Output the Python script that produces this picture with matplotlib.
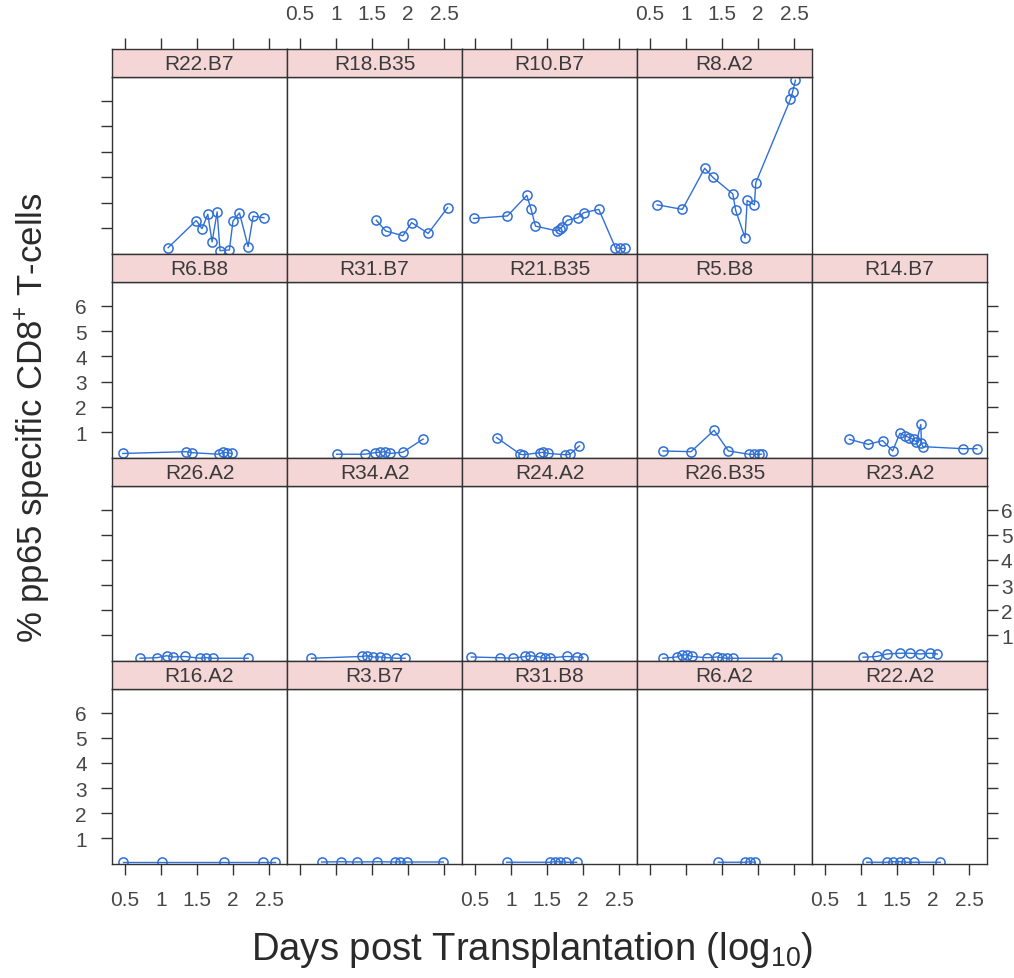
import matplotlib
matplotlib.use("Agg")
import matplotlib.pyplot as plt

plt.rcParams['font.family'] = ['Liberation Sans', 'DejaVu Sans']
plt.rcParams['mathtext.fontset'] = 'custom'
plt.rcParams['mathtext.rm'] = 'Liberation Sans'
plt.rcParams['mathtext.it'] = 'Liberation Sans:italic'
plt.rcParams['mathtext.bf'] = 'Liberation Sans:bold'

# ---------------- data (log10 days, % specific cells) ----------------
r22_b7_x = [1.10, 1.49, 1.57, 1.65, 1.71, 1.78, 1.82, 1.95, 2.00, 2.09, 2.21, 2.28, 2.43]
r22_b7_y = [0.22, 1.29, 0.97, 1.54, 0.45, 1.63, 0.10, 0.13, 1.27, 1.59, 0.26, 1.46, 1.40]

r18_b35_x = [1.56, 1.69, 1.93, 2.05, 2.28, 2.55]
r18_b35_y = [1.30, 0.88, 0.69, 1.21, 0.78, 1.80]

r10_b7_x = [0.48, 0.95, 1.22, 1.28, 1.34, 1.64, 1.68, 1.71, 1.78, 1.93, 2.01, 2.22, 2.45, 2.52, 2.58]
r10_b7_y = [1.37, 1.47, 2.28, 1.73, 1.07, 0.88, 0.97, 1.04, 1.30, 1.40, 1.60, 1.73, 0.22, 0.19, 0.19]

r8_a2_x = [0.60, 0.95, 1.26, 1.37, 1.65, 1.69, 1.82, 1.85, 1.95, 1.97, 2.45, 2.48, 2.52]
r8_a2_y = [1.91, 1.73, 3.35, 3.00, 2.34, 1.69, 0.61, 2.08, 1.91, 2.78, 6.07, 6.35, 6.82]

r6_b8_x = [0.47, 1.35, 1.43, 1.81, 1.86, 1.92, 1.98]
r6_b8_y = [0.15, 0.22, 0.18, 0.12, 0.20, 0.18, 0.15]

r31_b7_x = [1.01, 1.40, 1.54, 1.61, 1.68, 1.75, 1.93, 2.21]
r31_b7_y = [0.12, 0.12, 0.18, 0.20, 0.22, 0.15, 0.20, 0.72]

r21_b35_x = [0.80, 1.13, 1.17, 1.40, 1.45, 1.52, 1.75, 1.82, 1.95]
r21_b35_y = [0.78, 0.12, 0.10, 0.18, 0.20, 0.15, 0.10, 0.12, 0.45]

r5_b8_x = [0.68, 1.07, 1.39, 1.59, 1.87, 1.94, 2.01, 2.05]
r5_b8_y = [0.25, 0.22, 1.07, 0.25, 0.12, 0.12, 0.12, 0.12]

r14_b7_x = [0.84, 1.10, 1.30, 1.44, 1.54, 1.61, 1.67, 1.73, 1.77, 1.83, 1.84, 1.86, 2.41, 2.61]
r14_b7_y = [0.71, 0.51, 0.66, 0.25, 0.95, 0.85, 0.78, 0.71, 0.60, 1.30, 0.55, 0.42, 0.34, 0.34]

r26_a2_x = [0.71, 0.94, 1.08, 1.17, 1.33, 1.54, 1.63, 1.72, 2.21]
r26_a2_y = [0.08, 0.10, 0.18, 0.13, 0.15, 0.08, 0.10, 0.08, 0.08]

r34_a2_x = [0.66, 1.36, 1.43, 1.52, 1.61, 1.70, 1.84, 1.96]
r34_a2_y = [0.08, 0.15, 0.18, 0.13, 0.13, 0.10, 0.08, 0.08]

r24_a2_x = [0.45, 0.85, 1.03, 1.20, 1.27, 1.40, 1.47, 1.54, 1.78, 1.92, 2.00]
r24_a2_y = [0.13, 0.10, 0.08, 0.15, 0.18, 0.13, 0.08, 0.10, 0.15, 0.13, 0.10]

r26_b35_x = [0.68, 0.87, 0.94, 1.01, 1.08, 1.29, 1.43, 1.50, 1.57, 1.65, 2.26]
r26_b35_y = [0.08, 0.13, 0.20, 0.22, 0.15, 0.10, 0.13, 0.10, 0.08, 0.08, 0.08]

r23_a2_x = [1.03, 1.22, 1.36, 1.54, 1.68, 1.82, 1.96, 2.06]
r23_a2_y = [0.12, 0.15, 0.25, 0.28, 0.28, 0.25, 0.28, 0.25]

r16_a2_x = [0.47, 1.02, 1.88, 2.42, 2.58]
r16_a2_y = [0.04, 0.04, 0.04, 0.04, 0.04]

r3_b7_x = [0.80, 1.07, 1.29, 1.57, 1.82, 1.89, 1.98, 2.49]
r3_b7_y = [0.05, 0.06, 0.05, 0.06, 0.05, 0.06, 0.05, 0.05]

r31_b8_x = [0.94, 1.54, 1.61, 1.68, 1.77, 1.91]
r31_b8_y = [0.04, 0.04, 0.06, 0.06, 0.04, 0.04]

r6_a2_x = [1.45, 1.82, 1.89, 1.96]
r6_a2_y = [0.04, 0.04, 0.06, 0.04]

r22_a2_x = [1.08, 1.36, 1.45, 1.54, 1.63, 1.73, 2.10]
r22_a2_y = [0.04, 0.04, 0.06, 0.06, 0.04, 0.04, 0.04]

panel_rows = [
    [("R22.B7", r22_b7_x, r22_b7_y), ("R18.B35", r18_b35_x, r18_b35_y),
     ("R10.B7", r10_b7_x, r10_b7_y), ("R8.A2", r8_a2_x, r8_a2_y), None],
    [("R6.B8", r6_b8_x, r6_b8_y), ("R31.B7", r31_b7_x, r31_b7_y),
     ("R21.B35", r21_b35_x, r21_b35_y), ("R5.B8", r5_b8_x, r5_b8_y),
     ("R14.B7", r14_b7_x, r14_b7_y)],
    [("R26.A2", r26_a2_x, r26_a2_y), ("R34.A2", r34_a2_x, r34_a2_y),
     ("R24.A2", r24_a2_x, r24_a2_y), ("R26.B35", r26_b35_x, r26_b35_y),
     ("R23.A2", r23_a2_x, r23_a2_y)],
    [("R16.A2", r16_a2_x, r16_a2_y), ("R3.B7", r3_b7_x, r3_b7_y),
     ("R31.B8", r31_b8_x, r31_b8_y), ("R6.A2", r6_a2_x, r6_a2_y),
     ("R22.A2", r22_a2_x, r22_a2_y)],
]

x_ticks = [0.5, 1, 1.5, 2, 2.5]
x_ticklabels = ["0.5", "1", "1.5", "2", "2.5"]
y_ticks = [1, 2, 3, 4, 5, 6]
y_ticklabels = ["1", "2", "3", "4", "5", "6"]
x_label = r"Days post Transplantation (log$_{10}$)"
y_label = r"% pp65 specific CD8$^{+}$ T-cells"

# ---------------- layout (pixels) ----------------
W, H = 1014, 979
col_edges = [112, 287, 462, 637, 812, 987]
strip_tops = [50, 255, 459, 662]
panel_bottoms = [255, 459, 662, 865]
strip_h = 28
xlim = (0.32, 2.75)
ylim = (-0.03, 6.95)

line_col = "#2f6fd6"
edge_col = "#333333"
text_col = "#474747"
strip_col = "#f5d6d6"
fs_tick = 15
fs_strip = 15

fig = plt.figure(figsize=(W / 100, H / 100), dpi=100)
fig.patch.set_facecolor("white")


def frac(x0, y_top, x1, y_bot):
    return [x0 / W, 1 - y_bot / H, (x1 - x0) / W, (y_bot - y_top) / H]


nrows = len(panel_rows)
for r, row in enumerate(panel_rows):
    for c, item in enumerate(row):
        if item is None:
            continue
        name, xs, ys = item
        x0, x1 = col_edges[c], col_edges[c + 1]
        st = strip_tops[r]
        pb = panel_bottoms[r]
        ax = fig.add_axes(frac(x0, st + strip_h, x1, pb))
        ax.plot(xs, ys, color=line_col, lw=1.0, marker="o", ms=6.6,
                mfc="none", mec=line_col, mew=1.1)
        ax.set_xlim(*xlim)
        ax.set_ylim(*ylim)
        for sp in ax.spines.values():
            sp.set_color(edge_col)
            sp.set_linewidth(1.0)
        ax.set_xticks(x_ticks)
        ax.set_yticks(y_ticks)
        ax.tick_params(axis="both", direction="out", length=8, width=1,
                       color=edge_col, labelcolor=text_col, labelsize=fs_tick)
        left_ticks = (c == 0)
        left_labels = (c == 0 and r % 2 == 1)
        right_ticks = (c == len(row) - 1 and row[-1] is not None)
        right_labels = right_ticks and (r % 2 == 0)
        ax.tick_params(axis="y", left=left_ticks, labelleft=left_labels,
                       right=right_ticks, labelright=right_labels)
        ax.tick_params(axis="y", pad=10)
        if right_labels:
            ax.tick_params(axis="y", pad=2)
        ax.set_yticklabels(y_ticklabels)
        bottom = (r == nrows - 1)
        ax.tick_params(axis="x", bottom=bottom, labelbottom=bottom and c % 2 == 0,
                       top=False, labeltop=False, pad=11)
        ax.set_xticklabels(x_ticklabels)

        sax = fig.add_axes(frac(x0, st, x1, st + strip_h))
        sax.set_facecolor(strip_col)
        sax.set_xlim(*xlim)
        sax.set_ylim(0, 1)
        sax.set_yticks([])
        for sp in sax.spines.values():
            sp.set_color(edge_col)
            sp.set_linewidth(1.0)
        sax.text(0.5, 0.48, name, transform=sax.transAxes, ha="center",
                 va="center", fontsize=fs_strip, color="#3a3a3a")
        top = (r == 0)
        sax.set_xticks(x_ticks)
        sax.set_xticklabels(x_ticklabels)
        sax.tick_params(axis="x", bottom=False, labelbottom=False,
                        top=top, labeltop=top and c % 2 == 1, direction="out",
                        length=8, width=1, color=edge_col, labelcolor=text_col,
                        labelsize=fs_tick, pad=11)

fig.text(532 / W, 1 - 950 / H, x_label, ha="center", va="center",
         fontsize=27.5, color="#2a2a2a")
fig.text(33 / W, 1 - 418 / H, y_label, ha="center", va="center",
         rotation=90, fontsize=25, color="#2a2a2a")

fig.savefig("out.png", dpi=100, facecolor="white")
